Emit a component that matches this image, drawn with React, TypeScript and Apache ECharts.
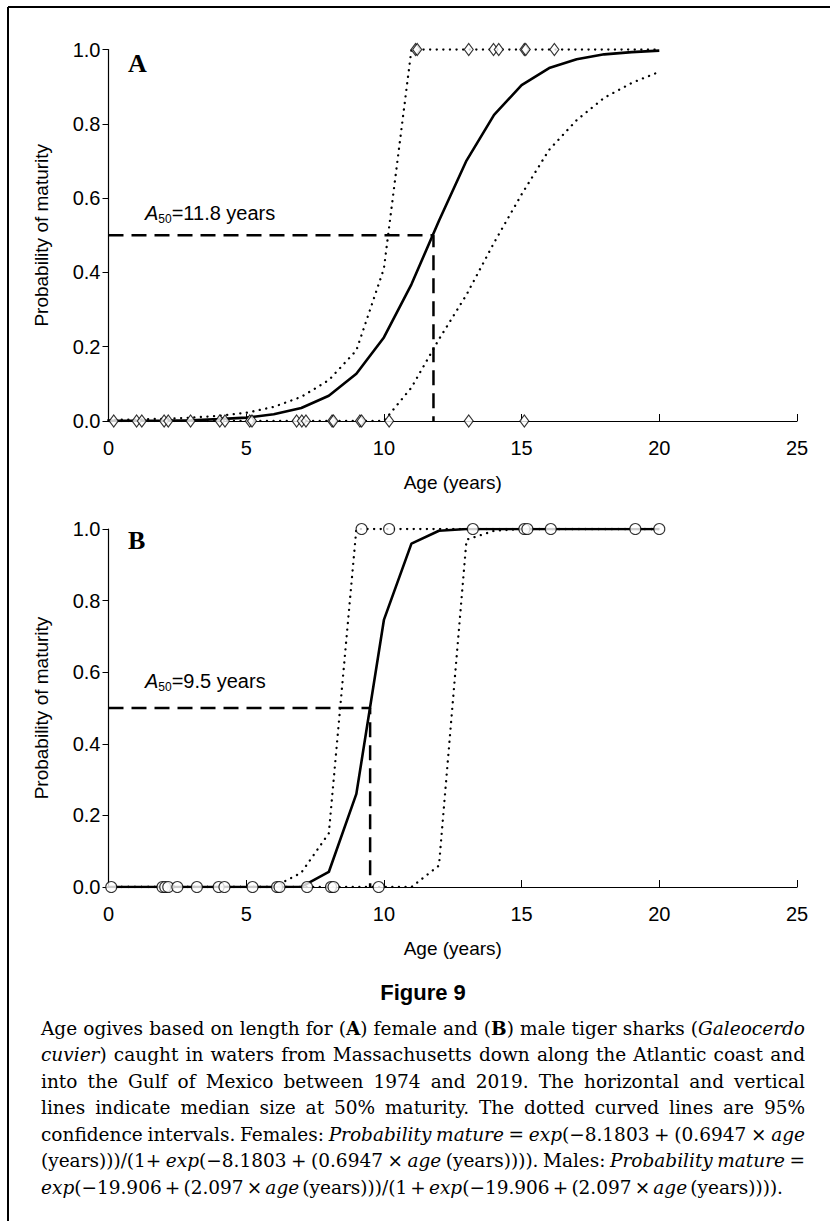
import React, { useEffect, useRef } from "react";
import * as echarts from "echarts";

const ages = [0, 1, 2, 3, 4, 5, 6, 7, 8, 9, 10, 11, 12, 13, 14, 15, 16, 17, 18, 19, 20];
// Panel A (females)
const aFit = [0.0003, 0.0006, 0.001, 0.002, 0.005, 0.009, 0.018, 0.035, 0.068, 0.127, 0.225, 0.368, 0.539, 0.701, 0.824, 0.904, 0.95, 0.974, 0.987, 0.993, 0.997];
const aUpper = [0.003, 0.004, 0.006, 0.009, 0.014, 0.022, 0.038, 0.065, 0.11, 0.19, 0.41, 1, 1, 1, 1, 1, 1, 1, 1, 1, 1];
const aLower = [0, 0, 0, 0, 0, 0, 0, 0, 0, 0, 0, 0.09, 0.22, 0.34, 0.48, 0.61, 0.73, 0.81, 0.87, 0.91, 0.94];
const aMature = [11.15, 11.21, 13.08, 13.98, 14.17, 15.1, 15.15, 16.19];
const aImmature = [0.19, 1.02, 1.21, 2.02, 2.17, 2.98, 4.04, 4.23, 5.13, 5.21, 6.83, 7.02, 7.17, 8.12, 8.17, 9.13, 9.19, 10.19, 13.08, 15.1];
const aA50 = 11.8;
// Panel B (males)
const bFit = [0, 0, 0, 0, 0, 0, 0, 0.0005, 0.042, 0.26, 0.746, 0.959, 0.995, 1, 1, 1, 1, 1, 1, 1, 1];
const bUpper = [0, 0, 0, 0, 0, 0, 0, 0.04, 0.15, 1, 1, 1, 1, 1, 1, 1, 1, 1, 1, 1, 1];
const bLower = [0, 0, 0, 0, 0, 0, 0, 0, 0, 0, 0, 0, 0.06, 0.97, 0.995, 1, 1, 1, 1, 1, 1];
const bMature = [9.19, 10.19, 13.23, 15.1, 15.21, 16.06, 19.13, 20.0];
const bImmature = [0.1, 1.96, 2.06, 2.17, 2.5, 3.21, 4.0, 4.21, 5.23, 6.12, 6.21, 7.21, 8.08, 8.17, 9.81];
const bA50 = 9.5;

const captionLines = [
  "{r|Age ogives based on length for (}{b|A}{r|) female and (}{b|B}{r|) male tiger sharks (}{i|Galeocerdo}",
  "{i|cuvier}{r|) caught in waters from Massachusetts down along the Atlantic coast and}",
  "{r|into the Gulf of Mexico between 1974 and 2019. The horizontal and vertical}",
  "{r|lines indicate median size at 50% maturity. The dotted curved lines are 95%}",
  "{r|confidence intervals. Females: }{i|Probability mature}{r| = }{i|exp}{r|(−8.1803 + (0.6947 × }{i|age}",
  "{r|(years)))/(1+ }{i|exp}{r|(−8.1803 + (0.6947 × }{i|age}{r| (years)))). Males: }{i|Probability mature}{r| =}",
  "{i|exp}{r|(−19.906 + (2.097 × }{i|age}{r| (years)))/(1 + }{i|exp}{r|(−19.906 + (2.097 × }{i|age}{r| (years)))).}",
];

const SANS = "'Liberation Sans', Arial, sans-serif";
const SERIF = "'Liberation Serif', 'Times New Roman', serif";
const CAP_SERIF = "'DejaVu Serif', serif";
const CAP_SIZE = 18.5;
const capFonts: Record<string, string> = {
  r: `${CAP_SIZE}px ${CAP_SERIF}`,
  b: `bold ${CAP_SIZE}px ${CAP_SERIF}`,
  i: `italic ${CAP_SIZE}px ${CAP_SERIF}`,
};

function captionGraphics() {
  const ctx = document.createElement("canvas").getContext("2d")!;
  const out: any[] = [];
  captionLines.forEach((line, k) => {
    const chunks: [string, string][] = [];
    const re = /\{(\w)\|([^}]*)\}/g;
    let m;
    while ((m = re.exec(line))) chunks.push([m[1], m[2]]);
    const words: [string, string][][] = [];
    let cur: [string, string][] = [];
    chunks.forEach(([st, tx]) => {
      tx.split(" ").forEach((p, j) => {
        if (j > 0 && cur.length) { words.push(cur); cur = []; }
        if (p) cur.push([st, p]);
      });
    });
    if (cur.length) words.push(cur);
    const widths = words.map((w) => w.reduce((s, [st, tx]) => { ctx.font = capFonts[st]; return s + ctx.measureText(tx).width; }, 0));
    const total = widths.reduce((a, b) => a + b, 0);
    const target = k === captionLines.length - 1 ? 742 : 764;
    const gap = Math.max(3, (target - total) / (words.length - 1));
    let x = 41;
    words.forEach((w, j) => {
      let xx = x;
      w.forEach(([st, tx]) => {
        ctx.font = capFonts[st];
        out.push({ type: "text", x: xx, y: 1028 + k * 26.5, style: { text: tx, font: capFonts[st], fill: "#000", verticalAlign: "middle" } });
        xx += ctx.measureText(tx).width;
      });
      x += widths[j] + gap;
    });
  });
  return out;
}

export default function App() {
  const ref = useRef<HTMLDivElement>(null);
  useEffect(() => {
    if (!ref.current) return;
    const chart = echarts.init(ref.current, undefined, { renderer: "svg" });
    const pair = (ys: number[]) => ages.map((a, i) => [a, ys[i]]);
    const xAxisBase = (gi: number) => ({
      gridIndex: gi, type: "value", min: 0, max: 25, interval: 5,
      axisLine: { lineStyle: { color: "#000", width: 1.2 } },
      axisTick: { inside: true, length: 7, lineStyle: { color: "#000" } },
      splitLine: { show: false },
      axisLabel: { color: "#000", fontFamily: SANS, fontSize: 20, margin: 17 },
      name: "Age (years)", nameLocation: "middle", nameGap: 52,
      nameTextStyle: { color: "#000", fontFamily: SANS, fontSize: 19 },
    });
    const yAxisBase = (gi: number) => ({
      gridIndex: gi, type: "value", min: 0, max: 1, interval: 0.2,
      axisLine: { show: true, lineStyle: { color: "#000", width: 1.2 } },
      axisTick: { show: true, inside: false, length: 6, lineStyle: { color: "#000" } },
      splitLine: { show: false },
      axisLabel: { color: "#000", fontFamily: SANS, fontSize: 20, margin: 8, formatter: (v: number) => v.toFixed(1) },
      name: "Probability of maturity", nameLocation: "middle", nameGap: 58,
      nameTextStyle: { color: "#000", fontFamily: SANS, fontSize: 19 },
    });
    const line = (gi: number, data: any[], type: any, width: number, cap = "butt") => ({
      type: "line", xAxisIndex: gi, yAxisIndex: gi, data, symbol: "none", silent: true,
      lineStyle: { color: "#000", width, type, cap },
    });
    const dotted = (gi: number, data: any[]) => line(gi, data, [0.1, 6.5], 2.3, "round");
    const pts = (gi: number, xs: number[], y: number, symbol: string, size: any) => ({
      type: "scatter", xAxisIndex: gi, yAxisIndex: gi, data: xs.map((x) => [x, y]), symbol, symbolSize: size, z: 5,
      itemStyle: { color: "#fff", borderColor: "#000", borderWidth: 1.1 },
    });
    const a50 = (gi: number, x: number) => line(gi, [[0, 0.5], [x, 0.5], [x, 0]], [15, 8], 2.5);
    const labelRich = {
      i: { fontFamily: SANS, fontStyle: "italic", fontSize: 20, fill: "#000" },
      s: { fontFamily: SANS, fontSize: 12, padding: [12, 0, 0, 0] },
      n: { fontFamily: SANS, fontSize: 20 },
    };
    chart.setOption({
      animation: false,
      grid: [
        { left: 108.5, top: 49.5, width: 688.5, height: 371.5 },
        { left: 108.5, top: 529, width: 688.5, height: 358 },
      ],
      xAxis: [xAxisBase(0), xAxisBase(1)],
      yAxis: [yAxisBase(0), yAxisBase(1)],
      series: [
        dotted(0, pair(aUpper)),
        dotted(0, pair(aLower)),
        line(0, pair(aFit), "solid", 2.6),
        a50(0, aA50),
        pts(0, aMature, 1, "diamond", [9, 12]),
        pts(0, aImmature, 0, "diamond", [9, 12]),
        dotted(1, pair(bUpper)),
        dotted(1, pair(bLower)),
        line(1, pair(bFit), "solid", 2.6),
        a50(1, bA50),
        pts(1, bMature, 1, "circle", 11),
        pts(1, bImmature, 0, "circle", 11),
      ],
      graphic: [
        { type: "line", shape: { x1: 8, y1: 7, x2: 830, y2: 7 }, style: { stroke: "#000", lineWidth: 2 } },
        { type: "line", shape: { x1: 8, y1: 7, x2: 8, y2: 1221 }, style: { stroke: "#000", lineWidth: 2 } },
        { type: "text", left: 128, top: 50, style: { text: "A", font: `bold 26px ${SERIF}`, fill: "#000" } },
        { type: "text", left: 128, top: 527, style: { text: "B", font: `bold 26px ${SERIF}`, fill: "#000" } },
        { type: "text", left: 145, top: 203, style: { text: "{i|A}{s|50}{n|=11.8 years}", rich: labelRich, fill: "#000" } },
        { type: "text", left: 145, top: 671, style: { text: "{i|A}{s|50}{n|=9.5 years}", rich: labelRich, fill: "#000" } },
        { type: "text", x: 423, y: 992, style: { text: "Figure 9", font: `bold 22px ${SANS}`, fill: "#000", align: "center", verticalAlign: "middle" } },
        ...captionGraphics(),
      ],
    });
    return () => chart.dispose();
  }, []);
  return <div ref={ref} style={{ position: "absolute", left: 0, top: 0, width: 830, height: 1221 }} />;
}
